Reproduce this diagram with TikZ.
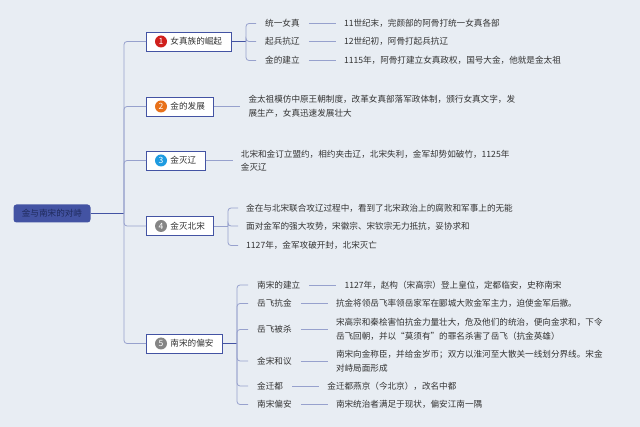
\documentclass[tikz,border=0pt]{standalone}
\usepackage{fontspec}
\newfontfamily\cjk{Noto Sans CJK SC}
\usetikzlibrary{positioning}
\definecolor{bg}{HTML}{E8EDF3}
\definecolor{navy}{HTML}{4353A3}
\definecolor{rootfont}{HTML}{1F2A5C}
\definecolor{wirec}{HTML}{97A1CD}
\definecolor{ink}{HTML}{333333}
\definecolor{badgered}{HTML}{D0201C}
\definecolor{badgeorange}{HTML}{E8711A}
\definecolor{badgeblue}{HTML}{1E9BE0}
\definecolor{badgegrey}{HTML}{858585}
\tikzset{
  root/.style={fill=navy, text=rootfont, rounded corners=3pt, minimum width=77pt, minimum height=18pt, inner xsep=0pt},
  topic/.style={draw=navy, fill=white, line width=0.9pt, minimum height=19pt, inner xsep=9pt, anchor=west, text=ink},
  badge/.style={circle, fill=#1, minimum size=12pt, inner sep=0pt, text=white},
  sub/.style={inner xsep=9pt, inner ysep=1pt, anchor=west, text=ink},
  detail/.style={inner xsep=8pt, inner ysep=1pt, anchor=west, align=left, text=ink},
  wire/.style={draw=wirec, line width=0.8pt, rounded corners=3pt},
  bold wire/.style={draw=navy, line width=0.8pt, rounded corners=3pt},
}
\begin{document}
\begin{tikzpicture}[x=1pt, y=-1pt, font=\cjk\fontsize{8.6}{13.5}\selectfont]
  \fill[bg] (0,0) rectangle (640,427);
  \useasboundingbox (0,0) rectangle (640,427);

  % root and trunk
  \node[root] (root) at (52,213.5) {金与南宋的对峙};
  \coordinate (trunk) at (124,213.5);
  \draw[bold wire] (root) -- (trunk);

  % main topics
  \foreach \i/\y/\c/\t in {1/41.5/badgered/女真族的崛起, 2/106.5/badgeorange/金的发展, 3/160.5/badgeblue/金灭辽, 4/226/badgegrey/金灭北宋, 5/343.5/badgegrey/南宋的偏安} {
    \node[topic] (t\i) at (146,\y) {\hspace*{15pt}\t};
    \node[badge=\c] (n\i) at ([xshift=15pt]t\i.west) {\i};
    \draw[wire] (trunk) |- (t\i.west);
  }

  % 1: rise of the Jurchen
  \coordinate (b1) at (246,41.5);
  \draw[bold wire] (t1) -- (b1);
  \foreach \i/\y/\s/\d in {1/23.5/统一女真/11世纪末，完颜部的阿骨打统一女真各部, 2/41.5/起兵抗辽/12世纪初，阿骨打起兵抗辽, 3/60.5/金的建立/1115年，阿骨打建立女真政权，国号大金，他就是金太祖} {
    \node[sub] (s1\i) at (256,\y) {\s};
    \draw[wire] (b1) |- (s1\i.west);
    \node[detail, right=27pt of s1\i] (d1\i) {\d};
    \draw[wire] (s1\i) -- (d1\i);
  }

  % 2 and 3
  \node[detail, right=26pt of t2] (d2) {金太祖模仿中原王朝制度，改革女真部落军政体制，颁行女真文字，发\\展生产，女真迅速发展壮大};
  \draw[wire] (t2) -- (d2);
  \node[detail, right=27pt of t3] (d3) {北宋和金订立盟约，相约夹击辽，北宋失利，金军却势如破竹，1125年\\金灭辽};
  \draw[wire] (t3) -- (d3);

  % 4: fall of the Northern Song
  \coordinate (b4) at (228,226);
  \draw[wire] (t4) -- (b4);
  \foreach \i/\y/\d in {1/208/金在与北宋联合攻辽过程中，看到了北宋政治上的腐败和军事上的无能, 2/226/面对金军的强大攻势，宋徽宗、宋钦宗无力抵抗，妥协求和, 3/245.5/1127年，金军攻破开封，北宋灭亡} {
    \node[detail] (d4\i) at (238,\y) {\d};
    \draw[wire] (b4) |- (d4\i.west);
  }

  % 5: the Southern Song
  \coordinate (b5) at (237,343.5);
  \draw[bold wire] (t5) -- (b5);
  \foreach \i/\y/\s/\d in {1/285/南宋的建立/1127年，赵构（宋高宗）登上皇位，定都临安，史称南宋, 2/303.5/岳飞抗金/抗金将领岳飞率领岳家军在郾城大败金军主力，迫使金军后撤。, 3/329.5/岳飞被杀/宋高宗和秦桧害怕抗金力量壮大，危及他们的统治，便向金求和，下令\\岳飞回朝，并以“莫须有”的罪名杀害了岳飞（抗金英雄）, 4/361/金宋和议/南宋向金称臣，并给金岁币；双方以淮河至大散关一线划分界线。宋金\\对峙局面形成, 5/386/金迁都/金迁都燕京（今北京），改名中都, 6/404.5/南宋偏安/南宋统治者满足于现状，偏安江南一隅} {
    \node[sub] (s5\i) at (248,\y) {\s};
    \draw[wire] (b5) |- (s5\i.west);
    \node[detail, right=27pt of s5\i] (d5\i) {\d};
    \draw[wire] (s5\i) -- (d5\i);
  }
\end{tikzpicture}
\end{document}
